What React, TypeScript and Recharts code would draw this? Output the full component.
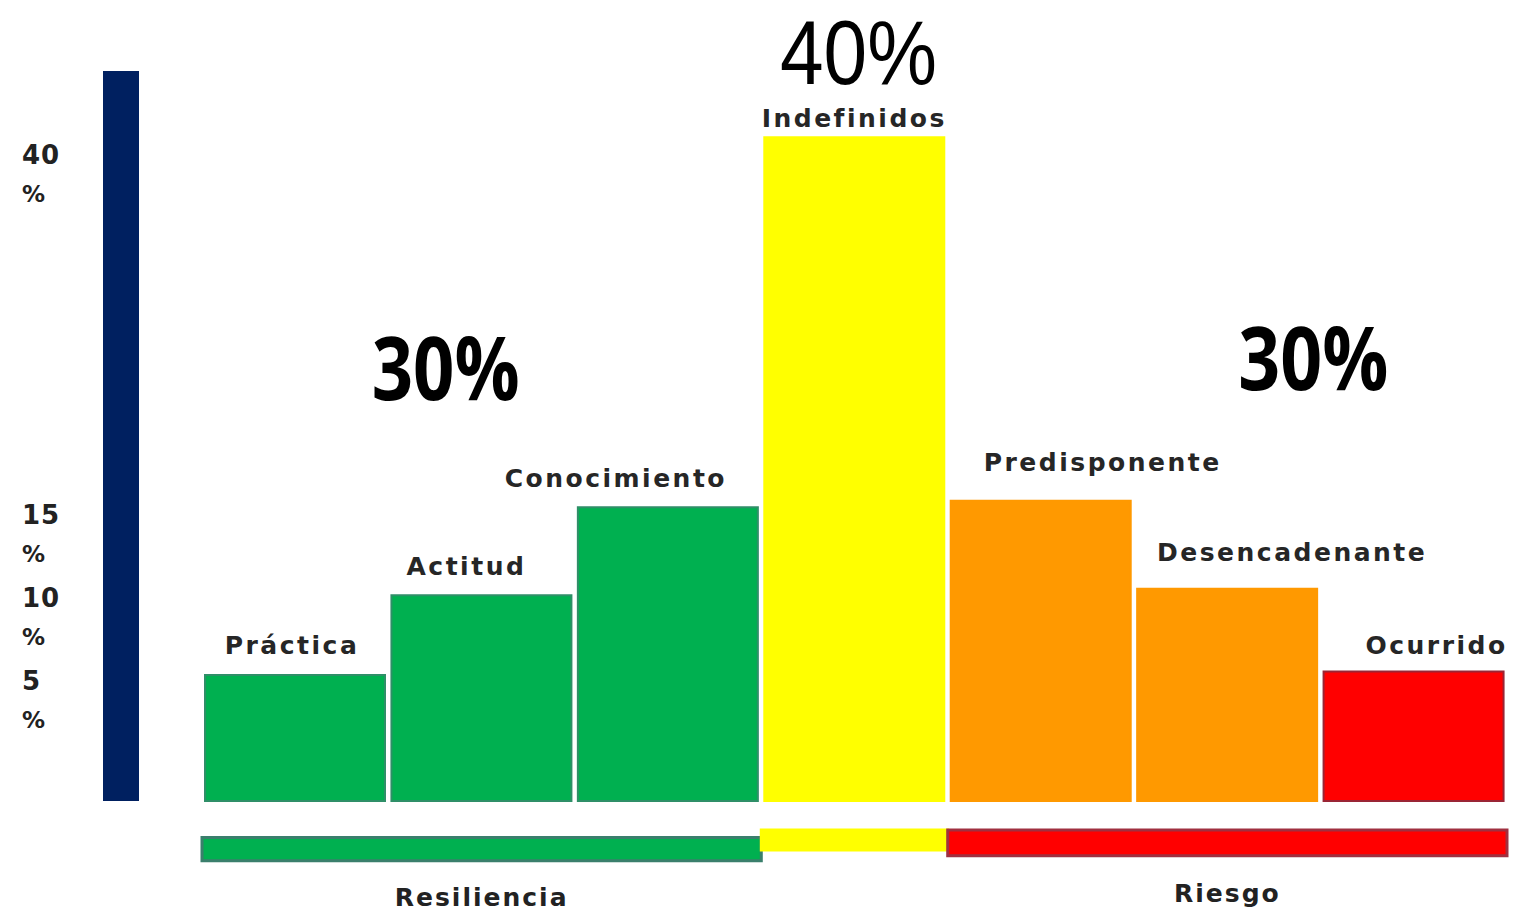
import { BarChart, Bar, XAxis, YAxis, Cell, LabelList, ReferenceArea, ReferenceDot } from "recharts";

// categories and percentages
const categories = ["Práctica", "Actitud", "Conocimiento", "Indefinidos", "Predisponente", "Desencadenante", "Ocurrido"];
const values = [7.6, 12.4, 17.7, 40, 18.1, 12.8, 7.8];
const yTicks = [5, 10, 15, 40];

// the three groups under the bars
const groupNames = ["Resiliencia", "", "Riesgo"];
const groupShares = ["30%", "40%", "30%"];
const groupFrom = ["Práctica", "Indefinidos", "Predisponente"];
const groupTo = ["Conocimiento", "Indefinidos", "Ocurrido"];

const data = categories.map((name, i) => ({ name, value: values[i] }));

const barFill = ["#00b050", "#00b050", "#00b050", "#ffff00", "#ff9900", "#ff9900", "#ff0000"];
const barStroke = ["#2f8f68", "#2f8f68", "#2f8f68", "#ffff00", "#ff9900", "#ff9900", "#9a2535"];
// name labels are not exactly centred over their bars in the original
const nameDx = [-3, -15, -52, 0, 62, 65, 23];
const nameGap = [21, 20, 20, 10, 30, 28, 18];

const groupStyle = [
  { fill: "#00b050", stroke: "#3a7f6c", y1: -2.2, y2: -3.6 },
  { fill: "#ffff00", stroke: "#ffff00", y1: -1.75, y2: -2.95 },
  { fill: "#ff0000", stroke: "#a03040", y1: -1.75, y2: -3.3 },
];
const shareStyle = [
  { x: "Actitud", y: 24.2, dx: -36, size: 88, weight: 700, family: "'Open Sans', sans-serif", len: 148 },
  { x: "Indefinidos", y: 43.2, dx: 4, size: 90, weight: 400, family: "'Liberation Sans', Arial, sans-serif", len: 157 },
  { x: "Desencadenante", y: 24.8, dx: 86, size: 88, weight: 700, family: "'Open Sans', sans-serif", len: 150 },
];

const labelFont = "'DejaVu Sans', sans-serif";
const topTick = Math.max(...yTicks);

function YTick(props: any) {
  const { y, payload } = props;
  // the top label hangs below its tick, the others sit above theirs
  const shift = payload.value === topTick ? 55 : 0;
  return (
    <g>
      <text x={22} y={y - 28 + shift} fontSize={26} fontWeight={700} fontFamily={labelFont} fill="#222" letterSpacing={1}>
        {payload.value}
      </text>
      <text x={22} y={y + 10 + shift} fontSize={23} fontWeight={700} fontFamily={labelFont} fill="#222">
        %
      </text>
    </g>
  );
}

function NameLabel(props: any) {
  const { x, y, width, value, index } = props;
  return (
    <text
      x={x + width / 2 + nameDx[index]}
      y={y - nameGap[index]}
      textAnchor="middle"
      fill="#262626"
      fontSize={25}
      fontWeight={700}
      fontFamily={labelFont}
      letterSpacing={2.5}
    >
      {value}
    </text>
  );
}

function shareLabel(i: number) {
  const s = shareStyle[i];
  return (props: any) => {
    const vb = props.viewBox || props;
    return (
      <text
        x={vb.x + s.dx}
        y={vb.y}
        textAnchor="middle"
        fontSize={s.size}
        fontWeight={s.weight}
        fontFamily={s.family}
        fill="#000"
        textLength={s.len}
        lengthAdjust="spacingAndGlyphs"
      >
        {groupShares[i]}
      </text>
    );
  };
}

export default function App() {
  return (
    <div style={{ position: "absolute", left: 0, top: 0, background: "#fff" }}>
      <BarChart
        width={1514}
        height={912}
        data={data}
        margin={{ top: 71, right: 7, bottom: 111, left: 0 }}
        barCategoryGap={3}
      >
        <XAxis dataKey="name" hide padding={{ left: 81, right: 0 }} />
        <YAxis
          width={121}
          domain={[0, 44]}
          ticks={yTicks}
          tickLine={false}
          axisLine={{ stroke: "#002060", strokeWidth: 36 }}
          tick={<YTick />}
        />
        <Bar dataKey="value" isAnimationActive={false}>
          {data.map((d, i) => (
            <Cell key={d.name} fill={barFill[i]} stroke={barStroke[i]} strokeWidth={2} />
          ))}
          <LabelList dataKey="name" content={<NameLabel />} />
        </Bar>
        {groupNames.map((g, i) => (
          <ReferenceArea
            key={i}
            x1={groupFrom[i]}
            x2={groupTo[i]}
            y1={groupStyle[i].y1}
            y2={groupStyle[i].y2}
            ifOverflow="visible"
            fill={groupStyle[i].fill}
            fillOpacity={1}
            stroke={groupStyle[i].stroke}
            strokeWidth={3}
            label={
              g
                ? {
                    value: g,
                    position: "bottom",
                    offset: 28,
                    fill: "#222",
                    fontSize: 25,
                    fontWeight: 700,
                    fontFamily: labelFont,
                    style: { letterSpacing: 2 },
                  }
                : undefined
            }
          />
        ))}
        {groupShares.map((s, i) => (
          <ReferenceDot
            key={"s" + i}
            x={shareStyle[i].x}
            y={shareStyle[i].y}
            r={0}
            fill="none"
            stroke="none"
            ifOverflow="visible"
            label={shareLabel(i)}
          />
        ))}
      </BarChart>
    </div>
  );
}
